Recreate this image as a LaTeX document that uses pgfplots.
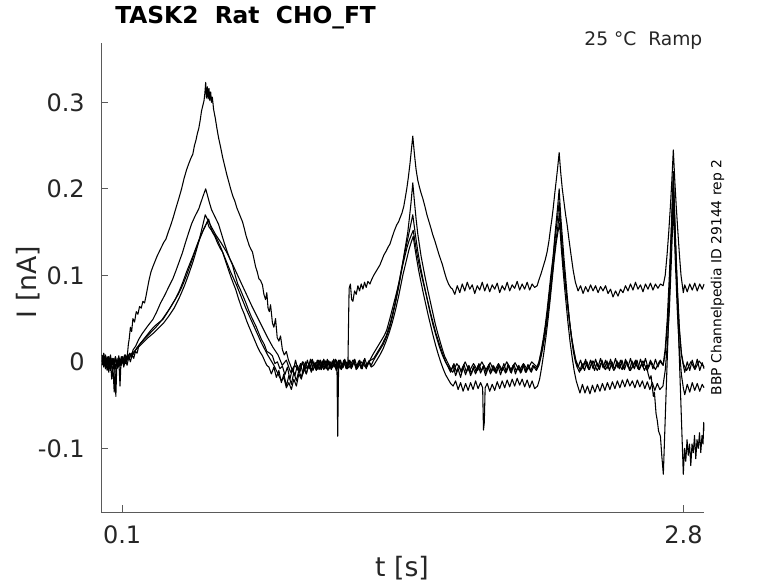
\documentclass[border=0pt]{standalone}
\usepackage{pgfplots}
\pgfplotsset{compat=1.18}
\usepackage{fontspec}
\setmainfont{DejaVu Sans}
\definecolor{axgray}{RGB}{90,90,90}
\definecolor{txtgray}{RGB}{38,38,38}
\pgfplotsset{trace/.style={black, line width=0.8pt, line join=round, mark=none}}
\begin{document}
\begin{tikzpicture}
\path[use as bounding box] (-75.975pt,-53.25pt) rectangle (507.525pt,384pt);
\begin{axis}[
  at={(0,0)}, anchor=south west,
  scale only axis, width=452.25pt, height=351.75pt,
  xmin=0, xmax=2.9, ymin=-0.1736, ymax=0.3686,
  clip mode=individual,
  axis lines=left, axis line style={-, axgray, line width=0.6pt},
  tick align=inside, major tick length=5pt,
  tick style={axgray, line width=0.6pt},
  xtick={0.1,2.8}, xticklabels={0.1,2.8},
  ytick={-0.1,0,0.1,0.2,0.3}, yticklabels={-0.1,0,0.1,0.2,0.3},
  /pgf/number format/assume math mode=true,
  ticklabel style={font=\fontsize{18}{21}\selectfont, text=txtgray, inner sep=0pt},
  xticklabel style={anchor=north, yshift=-9.75pt},
  yticklabel style={anchor=east, xshift=-12.2pt},
  xlabel={t [s]}, ylabel={I [nA]},
  label style={font=\fontsize{20}{24}\selectfont, text=txtgray, inner sep=0pt},
  xlabel style={at={(axis description cs:0.4987,-0.1194)}, anchor=center},
  ylabel style={at={(axis description cs:-0.1216,0.4904)}, anchor=center, rotate=0},
]
% trace A (tall)
\addplot[trace] coordinates {
(0.004,0.005) (0.012,-0.006) (0.02,0.008) (0.028,-0.004) (0.036,0.006) (0.044,-0.01) (0.052,0.004) (0.06,-0.008) (0.068,0.006) (0.076,-0.005) (0.084,0.007) (0.092,-0.004) (0.1,0.006) (0.108,-0.003) (0.116,0.008) (0.124,0.004)
(0.13,0.02) (0.134,0.026) (0.14,0.04) (0.146,0.035) (0.152,0.05) (0.16,0.046) (0.168,0.058) (0.176,0.055) (0.184,0.064) (0.192,0.062) (0.2,0.07) (0.208,0.068) (0.215,0.076) (0.222,0.085) (0.23,0.095) (0.239,0.104) (0.248,0.11) (0.258,0.116) (0.268,0.122) (0.278,0.127) (0.29,0.133) (0.3,0.138) (0.311,0.142) (0.322,0.15) (0.334,0.158) (0.346,0.167) (0.358,0.177) (0.373,0.189) (0.386,0.2) (0.398,0.212) (0.41,0.222) (0.422,0.23) (0.432,0.236) (0.44,0.24) (0.448,0.25) (0.456,0.257) (0.462,0.264) (0.469,0.27) (0.476,0.28) (0.482,0.29) (0.488,0.296) (0.494,0.302) (0.498,0.31) (0.502,0.323) (0.506,0.305) (0.51,0.318) (0.514,0.304) (0.518,0.316) (0.522,0.302) (0.526,0.312) (0.53,0.3) (0.534,0.306) (0.54,0.292) (0.548,0.282) (0.556,0.27) (0.564,0.259) (0.574,0.248) (0.584,0.236) (0.594,0.226) (0.604,0.216) (0.612,0.209) (0.622,0.2) (0.632,0.192) (0.642,0.186) (0.652,0.178) (0.662,0.172) (0.672,0.166) (0.679,0.162) (0.688,0.154) (0.696,0.146) (0.704,0.14) (0.712,0.134) (0.72,0.13) (0.727,0.127) (0.735,0.118) (0.742,0.11) (0.75,0.104) (0.758,0.096) (0.766,0.094) (0.775,0.089) (0.782,0.078) (0.79,0.072) (0.796,0.08) (0.802,0.062) (0.808,0.058) (0.814,0.066) (0.823,0.045) (0.83,0.04) (0.838,0.05) (0.846,0.028) (0.854,0.024) (0.862,0.03) (0.871,0.014) (0.88,0.008) (0.89,0.012) (0.9,0.002) (0.91,-0.004)
(0.922,-0.012) (0.934,0.002) (0.946,-0.01) (0.958,-0.002) (0.97,-0.014) (0.982,0.0) (0.994,-0.008) (1.006,0.003) (1.018,-0.01) (1.03,-0.001) (1.042,-0.009) (1.054,0.002) (1.066,-0.007) (1.078,0.001) (1.09,-0.01) (1.102,0.0) (1.114,-0.006) (1.126,0.003) (1.138,-0.008) (1.15,0.002) (1.162,-0.007) (1.174,0.001) (1.186,-0.004)
(1.19,0.06) (1.192,0.085) (1.198,0.09) (1.204,0.072) (1.21,0.07) (1.218,0.082) (1.226,0.078) (1.234,0.088) (1.242,0.082) (1.25,0.09) (1.258,0.084) (1.266,0.092) (1.274,0.086) (1.282,0.093) (1.292,0.09)
(1.3,0.095) (1.31,0.1) (1.32,0.104) (1.33,0.108) (1.34,0.112) (1.35,0.118) (1.36,0.124) (1.37,0.128) (1.38,0.133) (1.388,0.136) (1.4,0.145) (1.41,0.152) (1.42,0.158) (1.43,0.162) (1.436,0.166) (1.446,0.172) (1.455,0.18) (1.462,0.19) (1.469,0.2) (1.476,0.212) (1.484,0.228) (1.49,0.242) (1.498,0.261) (1.506,0.24) (1.514,0.222) (1.522,0.21) (1.53,0.202) (1.538,0.195) (1.546,0.189) (1.556,0.18) (1.566,0.17) (1.576,0.162) (1.586,0.154) (1.594,0.147) (1.604,0.14) (1.614,0.132) (1.624,0.124) (1.634,0.117) (1.641,0.112) (1.65,0.104) (1.66,0.096) (1.67,0.09) (1.68,0.086) (1.689,0.084)
(1.7,0.078) (1.712,0.088) (1.724,0.08) (1.736,0.09) (1.748,0.082) (1.76,0.092) (1.772,0.084) (1.784,0.089) (1.796,0.079) (1.808,0.088) (1.82,0.083) (1.832,0.092) (1.844,0.082) (1.856,0.09) (1.868,0.081) (1.88,0.089) (1.892,0.084) (1.904,0.091) (1.916,0.08) (1.928,0.088) (1.94,0.083) (1.952,0.092) (1.964,0.082) (1.976,0.089) (1.988,0.085) (2.0,0.093) (2.012,0.083) (2.024,0.09) (2.036,0.084) (2.048,0.092) (2.06,0.083) (2.072,0.09) (2.084,0.086) (2.096,0.088)
(2.105,0.095) (2.115,0.102) (2.125,0.11) (2.135,0.118) (2.144,0.127) (2.153,0.14) (2.161,0.155) (2.167,0.165) (2.173,0.177) (2.181,0.195) (2.189,0.212) (2.195,0.225) (2.202,0.242) (2.209,0.22) (2.217,0.2) (2.225,0.185) (2.233,0.17) (2.24,0.159) (2.25,0.14) (2.26,0.122) (2.27,0.105) (2.28,0.092) (2.293,0.082)
(2.305,0.088) (2.317,0.079) (2.329,0.087) (2.341,0.081) (2.353,0.089) (2.365,0.082) (2.377,0.088) (2.389,0.08) (2.401,0.087) (2.413,0.082) (2.425,0.088) (2.437,0.079) (2.449,0.084) (2.461,0.075) (2.473,0.082) (2.485,0.076) (2.497,0.084) (2.509,0.08) (2.521,0.088) (2.533,0.082) (2.545,0.09) (2.557,0.083) (2.569,0.092) (2.581,0.084) (2.593,0.089) (2.605,0.081) (2.617,0.09) (2.629,0.084) (2.641,0.091) (2.653,0.083) (2.665,0.09) (2.677,0.085) (2.689,0.09) (2.702,0.088)
(2.712,0.1) (2.721,0.124) (2.729,0.15) (2.737,0.18) (2.744,0.21) (2.751,0.245) (2.758,0.21) (2.765,0.18) (2.773,0.15) (2.78,0.125) (2.788,0.1) (2.799,0.08)
(2.806,0.089) (2.818,0.081) (2.83,0.09) (2.842,0.083) (2.854,0.091) (2.866,0.082) (2.878,0.09) (2.89,0.084) (2.899,0.09)
};
% trace B
\addplot[trace] coordinates {
(0.004,-0.004) (0.012,0.006) (0.02,-0.008) (0.028,0.004) (0.036,-0.012) (0.044,0.002) (0.05,-0.02) (0.056,-0.006) (0.062,-0.035) (0.066,-0.01) (0.072,0.002) (0.08,-0.006) (0.088,0.004) (0.096,-0.004) (0.104,0.006) (0.112,-0.002) (0.12,0.006) (0.128,0.002) (0.136,0.01) (0.144,0.006) (0.153,0.014)
(0.165,0.018) (0.18,0.026) (0.195,0.032) (0.21,0.037) (0.225,0.042) (0.248,0.049) (0.265,0.057) (0.285,0.068) (0.305,0.077) (0.325,0.087) (0.344,0.096) (0.36,0.106) (0.375,0.116) (0.39,0.126) (0.405,0.138) (0.421,0.15) (0.435,0.16) (0.45,0.168) (0.469,0.177) (0.48,0.185) (0.49,0.192) (0.502,0.2) (0.51,0.193) (0.52,0.184) (0.53,0.176) (0.542,0.17) (0.554,0.164) (0.564,0.159) (0.578,0.148) (0.592,0.137) (0.606,0.127) (0.62,0.118) (0.631,0.112) (0.644,0.1) (0.656,0.09) (0.668,0.084) (0.68,0.077) (0.694,0.069) (0.708,0.06) (0.722,0.052) (0.736,0.045) (0.746,0.04) (0.756,0.034) (0.77,0.026) (0.784,0.02) (0.796,0.012) (0.81,0.01) (0.823,0.007) (0.835,-0.002) (0.847,0.0) (0.859,-0.008) (0.871,-0.005)
(0.883,-0.015) (0.895,-0.006) (0.907,-0.02) (0.919,-0.008) (0.931,-0.016) (0.943,-0.004) (0.955,-0.012) (0.967,0.0) (0.979,-0.01) (0.991,0.002) (1.003,-0.008) (1.015,0.003) (1.027,-0.007) (1.039,0.002) (1.051,-0.009) (1.063,0.001) (1.075,-0.007) (1.087,0.003) (1.099,-0.008) (1.111,0.001) (1.123,-0.006) (1.133,0.0) (1.137,-0.086) (1.141,-0.01) (1.147,0.002) (1.159,-0.007) (1.171,0.003) (1.183,-0.008) (1.195,0.002) (1.207,-0.006) (1.219,0.003) (1.231,-0.007) (1.243,0.002) (1.255,-0.008) (1.267,0.004) (1.279,-0.005) (1.292,0.002)
(1.305,0.008) (1.32,0.014) (1.335,0.02) (1.35,0.026) (1.362,0.031) (1.373,0.037) (1.39,0.052) (1.405,0.066) (1.42,0.08) (1.436,0.096) (1.448,0.112) (1.458,0.127) (1.466,0.138) (1.474,0.15) (1.482,0.167) (1.49,0.185) (1.498,0.207) (1.506,0.185) (1.514,0.165) (1.522,0.148) (1.53,0.135) (1.538,0.122) (1.546,0.112) (1.558,0.097) (1.57,0.083) (1.582,0.07) (1.594,0.057) (1.606,0.044) (1.618,0.033) (1.63,0.023) (1.641,0.014) (1.652,0.006) (1.664,0.0) (1.676,-0.006) (1.684,-0.009)
(1.696,-0.002) (1.708,-0.012) (1.72,-0.004) (1.732,-0.013) (1.744,-0.003) (1.756,-0.012) (1.768,-0.004) (1.78,-0.014) (1.792,-0.005) (1.804,-0.012) (1.816,-0.002) (1.828,-0.011) (1.84,-0.004) (1.852,-0.013) (1.864,-0.003) (1.876,-0.012) (1.888,-0.005) (1.9,-0.013) (1.912,-0.004) (1.924,-0.011) (1.936,-0.002) (1.948,-0.012) (1.96,-0.004) (1.972,-0.013) (1.984,-0.003) (1.996,-0.011) (2.008,-0.004) (2.02,-0.012) (2.032,-0.003) (2.044,-0.012) (2.056,-0.004) (2.068,-0.012) (2.08,-0.005) (2.096,-0.008)
(2.105,0.0) (2.115,0.012) (2.125,0.026) (2.135,0.042) (2.144,0.06) (2.153,0.08) (2.161,0.098) (2.167,0.11) (2.173,0.122) (2.181,0.145) (2.189,0.165) (2.195,0.18) (2.202,0.2) (2.209,0.17) (2.217,0.145) (2.225,0.12) (2.233,0.098) (2.24,0.078) (2.25,0.052) (2.26,0.03) (2.27,0.012) (2.28,0.0) (2.288,-0.006)
(2.3,-0.012) (2.312,-0.002) (2.324,-0.01) (2.336,0.0) (2.348,-0.009) (2.36,0.001) (2.372,-0.01) (2.384,-0.001) (2.396,-0.009) (2.408,0.002) (2.42,-0.008) (2.432,0.001) (2.444,-0.01) (2.456,0.0) (2.468,-0.009) (2.48,0.001) (2.492,-0.008) (2.504,0.002) (2.516,-0.009) (2.528,0.0) (2.54,-0.01) (2.552,0.001) (2.564,-0.008) (2.576,0.002) (2.588,-0.009) (2.6,-0.002) (2.612,-0.01) (2.622,-0.004) (2.63,-0.014)
(2.637,-0.02) (2.644,-0.016) (2.655,-0.04) (2.66,-0.035) (2.668,-0.06) (2.674,-0.068) (2.68,-0.08) (2.689,-0.086) (2.696,-0.11) (2.703,-0.13)
(2.727,0.04) (2.751,0.22) (2.775,0.04) (2.799,-0.13)
(2.805,-0.1) (2.811,-0.115) (2.817,-0.09) (2.823,-0.108) (2.829,-0.095) (2.835,-0.12) (2.841,-0.095) (2.847,-0.105) (2.853,-0.085) (2.859,-0.112) (2.865,-0.09) (2.871,-0.1) (2.877,-0.082) (2.883,-0.105) (2.889,-0.085) (2.894,-0.095) (2.897,-0.07) (2.899,-0.08)
};
% trace C
\addplot[trace] coordinates {
(0.004,0.008) (0.012,-0.004) (0.02,0.004) (0.028,-0.01) (0.036,0.002) (0.044,-0.006) (0.052,0.004) (0.06,-0.004) (0.068,0.006) (0.076,-0.008) (0.084,0.003) (0.09,-0.028) (0.094,-0.004) (0.1,0.004) (0.108,-0.006) (0.116,0.002) (0.124,-0.004) (0.132,0.006) (0.14,0.0) (0.148,0.008) (0.156,0.004) (0.164,0.012) (0.172,0.01) (0.181,0.019)
(0.2,0.025) (0.22,0.031) (0.24,0.037) (0.26,0.042) (0.28,0.046) (0.296,0.049) (0.315,0.056) (0.335,0.064) (0.355,0.072) (0.375,0.082) (0.392,0.092) (0.41,0.104) (0.425,0.113) (0.44,0.122) (0.454,0.131) (0.468,0.14) (0.482,0.148) (0.494,0.154) (0.506,0.16) (0.516,0.165) (0.524,0.158) (0.534,0.15) (0.546,0.145) (0.558,0.138) (0.57,0.132) (0.583,0.127) (0.598,0.116) (0.612,0.106) (0.625,0.097) (0.636,0.09) (0.646,0.084) (0.66,0.073) (0.674,0.063) (0.688,0.055) (0.698,0.048) (0.708,0.042) (0.722,0.034) (0.736,0.026) (0.75,0.018) (0.762,0.012) (0.775,0.007) (0.786,0.001) (0.796,-0.004) (0.806,-0.006)
(0.818,-0.014) (0.83,-0.006) (0.842,-0.018) (0.854,-0.01) (0.866,-0.024) (0.878,-0.014) (0.89,-0.028) (0.902,-0.016) (0.914,-0.026) (0.926,-0.012) (0.938,-0.022) (0.95,-0.01) (0.962,-0.018) (0.974,-0.006) (0.986,-0.014) (0.998,-0.003) (1.01,-0.012) (1.022,-0.002) (1.034,-0.01) (1.046,0.0) (1.058,-0.009) (1.07,0.002) (1.082,-0.008) (1.094,0.001) (1.106,-0.009) (1.118,0.0) (1.13,-0.01) (1.142,-0.001) (1.154,-0.008) (1.166,0.002) (1.178,-0.007) (1.19,0.001) (1.202,-0.008) (1.214,0.002) (1.226,-0.007) (1.238,0.001) (1.25,-0.008) (1.262,0.0) (1.274,-0.006) (1.286,0.001) (1.298,-0.004)
(1.31,0.002) (1.325,0.008) (1.34,0.014) (1.355,0.02) (1.37,0.028) (1.385,0.038) (1.4,0.052) (1.415,0.068) (1.43,0.086) (1.44,0.1) (1.45,0.112) (1.46,0.122) (1.47,0.132) (1.48,0.14) (1.49,0.146) (1.5,0.152) (1.508,0.14) (1.516,0.128) (1.526,0.115) (1.536,0.104) (1.548,0.092) (1.56,0.08) (1.572,0.068) (1.584,0.056) (1.596,0.045) (1.608,0.034) (1.62,0.025) (1.632,0.016) (1.644,0.008) (1.656,0.0) (1.668,-0.006) (1.68,-0.012)
(1.692,-0.004) (1.704,-0.016) (1.716,-0.008) (1.728,-0.018) (1.74,-0.006) (1.752,-0.015) (1.764,-0.005) (1.776,-0.016) (1.788,-0.007) (1.8,-0.014) (1.812,-0.004) (1.824,-0.013) (1.836,-0.005) (1.848,-0.016) (1.86,-0.006) (1.872,-0.014) (1.884,-0.004) (1.896,-0.013) (1.908,-0.005) (1.92,-0.015) (1.932,-0.006) (1.944,-0.013) (1.956,-0.003) (1.968,-0.012) (1.98,-0.004) (1.992,-0.014) (2.004,-0.005) (2.016,-0.013) (2.028,-0.004) (2.04,-0.012) (2.052,-0.003) (2.064,-0.011) (2.076,-0.004) (2.092,-0.01)
(2.105,-0.004) (2.115,0.006) (2.125,0.018) (2.135,0.032) (2.145,0.05) (2.155,0.07) (2.165,0.092) (2.175,0.115) (2.185,0.138) (2.195,0.155) (2.203,0.172) (2.211,0.145) (2.219,0.12) (2.227,0.1) (2.235,0.082) (2.243,0.064) (2.253,0.044) (2.263,0.026) (2.273,0.012) (2.283,0.0) (2.293,-0.006)
(2.305,0.002) (2.317,-0.008) (2.329,0.003) (2.341,-0.007) (2.353,0.002) (2.365,-0.008) (2.377,0.003) (2.389,-0.006) (2.401,0.004) (2.413,-0.007) (2.425,0.002) (2.437,-0.008) (2.449,0.003) (2.461,-0.006) (2.473,0.004) (2.485,-0.007) (2.497,0.002) (2.509,-0.008) (2.521,0.003) (2.533,-0.006) (2.545,0.004) (2.557,-0.007) (2.569,0.002) (2.581,-0.008) (2.593,0.003) (2.605,-0.006) (2.617,0.004) (2.629,-0.007) (2.641,0.002) (2.653,-0.008) (2.665,0.003) (2.677,-0.006) (2.689,0.002) (2.702,-0.004)
(2.712,0.01) (2.722,0.04) (2.732,0.08) (2.742,0.14) (2.751,0.2) (2.76,0.14) (2.77,0.08) (2.78,0.035) (2.79,0.008) (2.799,-0.004)
(2.806,-0.012) (2.818,0.0) (2.83,-0.01) (2.842,0.002) (2.854,-0.008) (2.866,0.003) (2.878,-0.01) (2.89,-0.001) (2.899,-0.008)
};
% trace D
\addplot[trace] coordinates {
(0.004,0.0) (0.012,0.01) (0.02,-0.002) (0.028,0.006) (0.036,-0.006) (0.044,0.008) (0.052,-0.004) (0.06,0.004) (0.066,-0.012) (0.07,-0.04) (0.074,-0.008) (0.08,0.004) (0.088,-0.004) (0.096,0.006) (0.104,-0.002) (0.112,0.008) (0.12,0.0) (0.128,0.008) (0.136,0.004) (0.144,0.01) (0.152,0.008)
(0.17,0.016) (0.19,0.022) (0.21,0.027) (0.23,0.032) (0.25,0.037) (0.27,0.042) (0.29,0.048) (0.31,0.055) (0.33,0.062) (0.35,0.07) (0.37,0.078) (0.39,0.088) (0.41,0.1) (0.43,0.113) (0.45,0.127) (0.47,0.14) (0.49,0.152) (0.51,0.162) (0.518,0.156) (0.53,0.152) (0.545,0.147) (0.56,0.14) (0.575,0.132) (0.59,0.123) (0.605,0.114) (0.62,0.105) (0.635,0.097) (0.65,0.089) (0.665,0.08) (0.68,0.071) (0.695,0.062) (0.71,0.054) (0.725,0.046) (0.74,0.038) (0.755,0.03) (0.77,0.022) (0.785,0.015) (0.8,0.008) (0.815,0.002) (0.83,-0.004) (0.842,-0.01) (0.854,-0.016) (0.866,-0.022) (0.878,-0.018) (0.89,-0.03) (0.902,-0.024) (0.914,-0.032) (0.926,-0.02) (0.938,-0.028) (0.95,-0.014) (0.962,-0.02) (0.974,-0.008) (0.986,-0.014) (0.998,-0.002) (1.01,-0.01)
(1.022,0.0) (1.034,-0.009) (1.046,0.002) (1.058,-0.007) (1.07,0.003) (1.082,-0.008) (1.094,0.001) (1.106,-0.006) (1.118,0.003) (1.13,-0.007) (1.142,0.002) (1.154,-0.009) (1.166,0.0) (1.178,-0.008) (1.19,0.002) (1.202,-0.007) (1.214,0.001) (1.226,-0.009) (1.238,0.0) (1.25,-0.007) (1.262,0.002) (1.274,-0.008) (1.286,0.0) (1.298,-0.006)
(1.31,-0.004) (1.325,0.002) (1.34,0.008) (1.355,0.015) (1.37,0.024) (1.385,0.034) (1.4,0.046) (1.415,0.06) (1.43,0.076) (1.44,0.088) (1.45,0.1) (1.46,0.11) (1.47,0.12) (1.48,0.13) (1.49,0.138) (1.5,0.145) (1.508,0.132) (1.516,0.12) (1.526,0.106) (1.536,0.094) (1.548,0.08) (1.56,0.067) (1.572,0.054) (1.584,0.042) (1.596,0.03) (1.608,0.019) (1.62,0.009) (1.632,0.0) (1.644,-0.008) (1.656,-0.015) (1.668,-0.02) (1.68,-0.025) (1.692,-0.028)
(1.704,-0.022) (1.716,-0.032) (1.728,-0.024) (1.74,-0.034) (1.752,-0.025) (1.764,-0.033) (1.776,-0.024) (1.788,-0.032) (1.8,-0.022) (1.812,-0.031) (1.824,-0.024) (1.834,-0.03) (1.838,-0.079) (1.842,-0.07) (1.846,-0.03) (1.856,-0.025) (1.868,-0.034) (1.88,-0.026) (1.892,-0.033) (1.904,-0.023) (1.916,-0.031) (1.928,-0.022) (1.94,-0.03) (1.952,-0.021) (1.964,-0.029) (1.976,-0.02) (1.988,-0.028) (2.0,-0.019) (2.012,-0.027) (2.024,-0.02) (2.036,-0.029) (2.048,-0.021) (2.06,-0.03) (2.072,-0.022) (2.084,-0.031) (2.098,-0.028)
(2.108,-0.02) (2.118,-0.006) (2.128,0.01) (2.138,0.028) (2.148,0.048) (2.158,0.07) (2.168,0.094) (2.178,0.118) (2.188,0.138) (2.196,0.15) (2.204,0.16) (2.212,0.132) (2.22,0.108) (2.228,0.086) (2.236,0.066) (2.244,0.046) (2.254,0.024) (2.264,0.006) (2.274,-0.01) (2.284,-0.022) (2.294,-0.03) (2.302,-0.036)
(2.314,-0.026) (2.326,-0.036) (2.338,-0.028) (2.35,-0.037) (2.362,-0.027) (2.374,-0.035) (2.386,-0.026) (2.398,-0.034) (2.41,-0.025) (2.422,-0.033) (2.434,-0.024) (2.446,-0.032) (2.458,-0.023) (2.47,-0.031) (2.482,-0.022) (2.494,-0.03) (2.506,-0.021) (2.518,-0.029) (2.53,-0.02) (2.542,-0.028) (2.554,-0.022) (2.566,-0.03) (2.578,-0.021) (2.59,-0.029) (2.602,-0.022) (2.614,-0.031) (2.626,-0.023) (2.638,-0.032) (2.65,-0.024) (2.662,-0.033) (2.674,-0.025) (2.686,-0.032) (2.701,-0.028)
(2.712,-0.01) (2.722,0.02) (2.732,0.06) (2.742,0.12) (2.751,0.18) (2.76,0.12) (2.77,0.06) (2.78,0.015) (2.79,-0.015) (2.799,-0.03)
(2.806,-0.038) (2.818,-0.026) (2.83,-0.035) (2.842,-0.024) (2.854,-0.033) (2.866,-0.025) (2.878,-0.034) (2.89,-0.026) (2.899,-0.03)
};
% trace E
\addplot[trace] coordinates {
(0.004,0.002) (0.02,-0.006) (0.036,0.006) (0.052,-0.008) (0.068,0.004) (0.084,-0.006) (0.1,0.006) (0.116,-0.002) (0.132,0.008) (0.15,0.01) (0.175,0.016) (0.2,0.022) (0.225,0.028) (0.25,0.033) (0.275,0.039) (0.3,0.045) (0.325,0.053) (0.35,0.062) (0.375,0.074) (0.4,0.088) (0.42,0.101) (0.44,0.115) (0.455,0.127) (0.47,0.14) (0.485,0.155) (0.5,0.17) (0.512,0.164) (0.525,0.158) (0.55,0.147) (0.575,0.138) (0.6,0.128) (0.625,0.116) (0.65,0.103) (0.675,0.09) (0.7,0.077) (0.725,0.064) (0.75,0.052) (0.775,0.04) (0.8,0.028) (0.825,0.017) (0.85,0.008) (0.87,-0.004) (0.89,0.002) (0.91,-0.012) (0.93,-0.004) (0.95,-0.01) (0.97,0.0) (0.99,-0.008) (1.01,0.002) (1.03,-0.008) (1.05,0.001) (1.07,-0.009) (1.09,0.0) (1.11,-0.007) (1.13,0.002) (1.15,-0.008) (1.17,0.001) (1.19,-0.007) (1.21,0.002) (1.23,-0.008) (1.25,0.0) (1.27,-0.006) (1.29,0.001)
(1.31,0.004) (1.33,0.012) (1.35,0.02) (1.37,0.03) (1.39,0.045) (1.41,0.065) (1.43,0.09) (1.45,0.115) (1.47,0.138) (1.485,0.155) (1.498,0.17) (1.51,0.148) (1.522,0.128) (1.535,0.11) (1.55,0.092) (1.565,0.075) (1.58,0.058) (1.595,0.043) (1.61,0.03) (1.625,0.018) (1.64,0.008) (1.655,0.0) (1.67,-0.006)
(1.69,-0.012) (1.71,-0.002) (1.73,-0.01) (1.75,0.0) (1.77,-0.011) (1.79,-0.002) (1.81,-0.01) (1.83,0.0) (1.85,-0.009) (1.87,-0.001) (1.89,-0.011) (1.91,-0.002) (1.93,-0.01) (1.95,0.0) (1.97,-0.009) (1.99,-0.001) (2.01,-0.01) (2.03,-0.002) (2.05,-0.009) (2.07,0.0) (2.095,-0.006)
(2.105,0.0) (2.115,0.01) (2.125,0.022) (2.135,0.038) (2.145,0.056) (2.155,0.078) (2.165,0.1) (2.175,0.125) (2.185,0.148) (2.195,0.168) (2.202,0.185) (2.21,0.155) (2.218,0.128) (2.226,0.106) (2.234,0.086) (2.242,0.068) (2.252,0.046) (2.262,0.028) (2.272,0.014) (2.282,0.002) (2.292,-0.004)
(2.305,-0.01) (2.325,0.0) (2.345,-0.009) (2.365,0.001) (2.385,-0.01) (2.405,-0.001) (2.425,-0.009) (2.445,0.0) (2.465,-0.01) (2.485,-0.001) (2.505,-0.009) (2.525,0.001) (2.545,-0.01) (2.565,0.0) (2.585,-0.009) (2.605,0.001) (2.625,-0.01) (2.645,0.0) (2.665,-0.009) (2.685,0.001) (2.702,-0.004)
(2.712,0.015) (2.722,0.05) (2.732,0.1) (2.742,0.16) (2.751,0.215) (2.76,0.15) (2.77,0.09) (2.78,0.04) (2.79,0.01) (2.799,-0.002) (2.815,-0.01) (2.835,0.0) (2.855,-0.009) (2.875,0.001) (2.899,-0.006)
};
\node[anchor=west, inner sep=0pt, font=\bfseries\fontsize{17.5}{21}\selectfont] at (axis description cs:0.0227,1.0533) {TASK2\ \ Rat\ \ CHO\_FT};
\node[anchor=east, inner sep=0pt, text=txtgray, font=\fontsize{14}{17}\selectfont] at (axis description cs:0.9972,1.0053) {25 °C\ \ Ramp};
\node[anchor=center, inner sep=0pt, rotate=90, font=\fontsize{10.4}{12.5}\selectfont] at (axis description cs:1.0219,0.5) {BBP Channelpedia ID 29144 rep 2};
\end{axis}
\end{tikzpicture}
\end{document}
